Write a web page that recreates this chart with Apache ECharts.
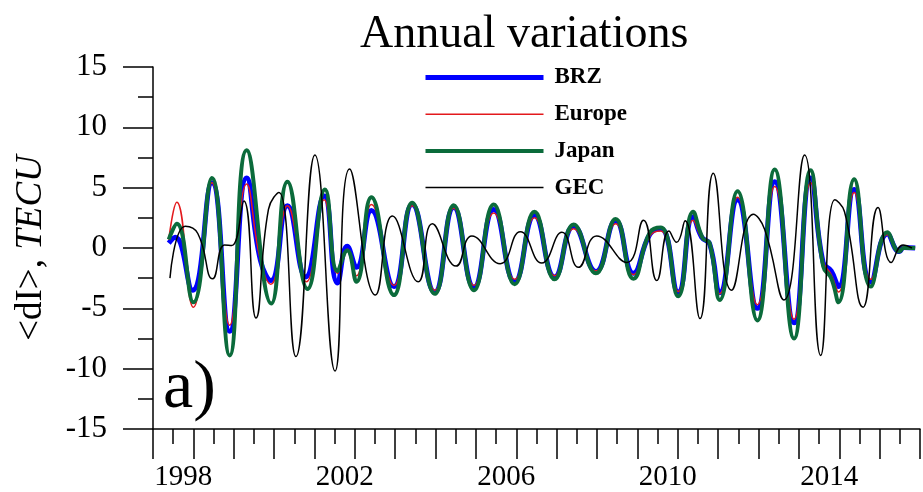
<!DOCTYPE html>
<html>
<head>
<meta charset="utf-8">
<script src="https://cdn.jsdelivr.net/npm/echarts@6/dist/echarts.min.js"></script>
<style>
  html, body { margin: 0; padding: 0; background: #fff; }
  #chart { width: 923px; height: 492px; }
</style>
</head>
<body>
<div id="chart"></div>
<script>
// Annual variations of <dI> (TECU) for BRZ, Europe, Japan and GEC
const seriesNames = ['BRZ', 'Europe', 'Japan', 'GEC'];
const xLabelYears = [1998, 2002, 2006, 2010, 2014];

// BRZ
const brzT = [1997.39, 1997.55, 1997.98, 1998.46, 1998.90, 1999.32, 1999.66, 1999.92, 2000.33, 2000.78,
  2001.24, 2001.57, 2001.81, 2002.04, 2002.41, 2002.97, 2003.42, 2003.98, 2004.45, 2004.95,
  2005.44, 2005.96, 2006.45, 2006.95, 2007.42, 2007.97, 2008.46, 2008.90, 2009.31, 2009.58,
  2010.01, 2010.38, 2010.59, 2010.79, 2011.04, 2011.48, 2011.97, 2012.40, 2012.88, 2013.29,
  2013.60, 2013.80, 2013.98, 2014.37, 2014.78, 2015.19, 2015.49, 2015.60, 2015.88];
const brzV = [0.4, 0.9, -3.5, 5.4, -6.9, 5.8, -1.0, -2.7, 3.5, -2.4,
  4.3, -2.9, 0.14, -1.6, 3.1, -3.2, 3.6, -3.65, 3.35, -3.25,
  3.2, -2.8, 2.7, -2.4, 1.8, -1.95, 2.25, -2.1, 1.15, 1.6,
  -3.65, 2.6, 0.9, 0.33, -3.7, 4.0, -5.0, 5.5, -6.2, 5.8,
  -1.2, -1.9, -3.2, 4.85, -2.8, 1.15, -0.3, 0.05, 0.0];

// Europe
const eurT = [1997.39, 1997.59, 1998.00, 1998.46, 1998.90, 1999.32, 1999.66, 1999.92, 2000.33, 2000.80,
  2001.24, 2001.57, 2001.81, 2002.04, 2002.41, 2002.97, 2003.42, 2003.98, 2004.45, 2004.95,
  2005.44, 2005.96, 2006.45, 2006.95, 2007.42, 2007.97, 2008.46, 2008.90, 2009.31, 2009.58,
  2010.01, 2010.38, 2010.62, 2010.79, 2011.04, 2011.48, 2011.97, 2012.40, 2012.88, 2013.29,
  2013.60, 2013.80, 2013.98, 2014.37, 2014.78, 2015.19, 2015.49, 2015.60, 2015.88];
const eurV = [0.7, 3.8, -4.9, 5.4, -6.4, 5.3, -1.0, -3.0, 3.5, -2.8,
  4.0, -2.1, -0.1, -2.3, 3.6, -3.1, 3.5, -3.5, 3.3, -3.1,
  2.9, -2.6, 2.5, -2.3, 1.6, -1.9, 2.0, -2.2, 1.0, 1.4,
  -3.6, 2.3, 0.7, 0.5, -3.8, 4.2, -4.7, 5.1, -5.9, 5.4,
  -1.1, -2.2, -3.65, 4.6, -2.6, 1.1, -0.2, 0.1, 0.0];

// Japan
const jpnT = [1997.39, 1997.59, 1998.00, 1998.46, 1998.90, 1999.32, 1999.93, 2000.33, 2000.83,
  2001.26, 2001.57, 2001.81, 2002.04, 2002.41, 2002.97, 2003.42, 2003.98, 2004.45, 2004.95,
  2005.44, 2005.96, 2006.45, 2006.95, 2007.42, 2007.97, 2008.46, 2008.90, 2009.31, 2009.58,
  2010.01, 2010.38, 2010.62, 2010.79, 2011.04, 2011.48, 2011.97, 2012.40, 2012.88, 2013.29,
  2013.60, 2013.80, 2013.98, 2014.37, 2014.78, 2015.19, 2015.49, 2015.60, 2015.88];
const jpnV = [0.7, 2.0, -4.5, 5.8, -8.9, 8.1, -4.6, 5.5, -3.4,
  4.85, -1.9, -0.2, -2.8, 4.2, -3.9, 3.75, -3.8, 3.55, -3.5,
  3.6, -3.0, 3.0, -2.6, 1.95, -2.1, 2.4, -2.55, 1.3, 1.7,
  -4.0, 3.0, 0.8, 0.4, -4.3, 4.7, -6.0, 6.5, -7.5, 6.45,
  -1.5, -2.5, -4.5, 5.7, -3.2, 1.3, -0.3, 0.0, 0.0];

// GEC
const gecT = [1997.42, 1997.80, 1998.11, 1998.48, 1998.77, 1998.95, 1999.25, 1999.55, 1999.86, 2000.12,
  2000.54, 2001.01, 2001.51, 2001.87, 2002.51, 2002.93, 2003.57, 2003.92, 2004.51, 2004.90,
  2005.60, 2006.10, 2006.63, 2007.13, 2007.54, 2007.99, 2008.74, 2009.15, 2009.48, 2009.78,
  2009.97, 2010.18, 2010.55, 2010.88, 2011.33, 2011.87, 2012.15, 2012.63, 2013.14, 2013.54,
  2013.89, 2014.13, 2014.59, 2014.96, 2015.29, 2015.58, 2015.80];
const gecV = [-2.5, 1.8, 1.2, -2.55, 0.25, 0.2, 3.9, -5.8, 3.2, 4.6,
  -9.0, 7.7, -10.2, 6.55, -3.9, 2.65, -2.8, 2.0, -1.5, 1.0,
  -1.3, 1.35, -1.25, 1.3, -1.6, 1.0, -1.2, 2.3, -2.7, 1.4,
  0.47, 2.25, -5.85, 6.2, -3.5, 2.8, 1.56, -4.3, 7.7, -8.9,
  4.0, 3.0, -4.9, 3.35, -1.2, 0.25, 0.0];

const FONT = "'Liberation Serif', 'Times New Roman', serif";

function pairs(t, v) { return t.map((x, i) => [x, v[i]]); }

const lineSpec = [
  { name: seriesNames[0], t: brzT, v: brzV, color: '#0000ff', width: 5 },
  { name: seriesNames[1], t: eurT, v: eurV, color: '#e3191c', width: 1.5 },
  { name: seriesNames[2], t: jpnT, v: jpnV, color: '#0b6b3b', width: 4 },
  { name: seriesNames[3], t: gecT, v: gecV, color: '#000000', width: 1.5 }
];

const chart = echarts.init(document.getElementById('chart'), null, { renderer: 'canvas' });

chart.setOption({
  animation: false,
  backgroundColor: '#ffffff',
  title: [
    {
      text: 'Annual variations',
      left: 360, top: 12, padding: 0,
      textStyle: { fontFamily: FONT, fontSize: 46, fontWeight: 'normal', color: '#000' }
    },
    {
      text: 'a)',
      left: 163, top: 355, padding: 0,
      textStyle: { fontFamily: FONT, fontSize: 68, fontWeight: 'normal', color: '#000' }
    }
  ],
  legend: {
    orient: 'vertical',
    left: 423, top: 66, padding: 0,
    itemWidth: 118, itemHeight: 20, itemGap: 13.7,
    itemStyle: { opacity: 0 },
    data: lineSpec.map(s => ({ name: s.name, lineStyle: { width: s.width, color: s.color } })),
    textStyle: { fontFamily: FONT, fontSize: 23, fontWeight: 'bold', color: '#000', lineHeight: 20, padding: [0, 0, 0, 6] }
  },
  grid: { left: 153, right: 1, top: 67, bottom: 60, containLabel: false },
  xAxis: {
    type: 'value',
    min: 1997, max: 2016, interval: 1,
    axisLine: { show: true, onZero: false, lineStyle: { color: '#000', width: 1.5 } },
    axisTick: { show: true, length: 30, lineStyle: { color: '#000', width: 1.5 } },
    minorTick: { show: true, splitNumber: 2, length: 15, lineStyle: { color: '#000', width: 1.5 } },
    splitLine: { show: false },
    axisLabel: {
      show: true, margin: 34,
      fontFamily: FONT, fontSize: 29, color: '#000',
      padding: [0, 20, 0, 0],
      showMinLabel: true, showMaxLabel: true,
      formatter: v => (xLabelYears.indexOf(Math.round(v)) >= 0 ? String(Math.round(v)) : '')
    }
  },
  yAxis: {
    type: 'value',
    min: -15, max: 15, interval: 5,
    name: '<dI>, {i|TECU}',
    nameLocation: 'middle',
    nameGap: 103,
    nameTextStyle: {
      fontFamily: FONT, fontSize: 37, color: '#000',
      rich: { i: { fontFamily: FONT, fontSize: 37, fontStyle: 'italic', color: '#000' } }
    },
    axisLine: { show: true, onZero: false, lineStyle: { color: '#000', width: 1.5 } },
    axisTick: { show: true, length: 30, lineStyle: { color: '#000', width: 1.5 } },
    minorTick: { show: true, splitNumber: 2, length: 15, lineStyle: { color: '#000', width: 1.5 } },
    splitLine: { show: false },
    axisLabel: { margin: 46, fontFamily: FONT, fontSize: 31, color: '#000' }
  },
  series: lineSpec.map(s => ({
    name: s.name,
    type: 'line',
    data: pairs(s.t, s.v),
    smooth: 0.5,
    showSymbol: false,
    symbol: 'none',
    color: s.color,
    lineStyle: { color: s.color, width: s.width },
    itemStyle: { color: s.color }
  }))
});
</script>
</body>
</html>
